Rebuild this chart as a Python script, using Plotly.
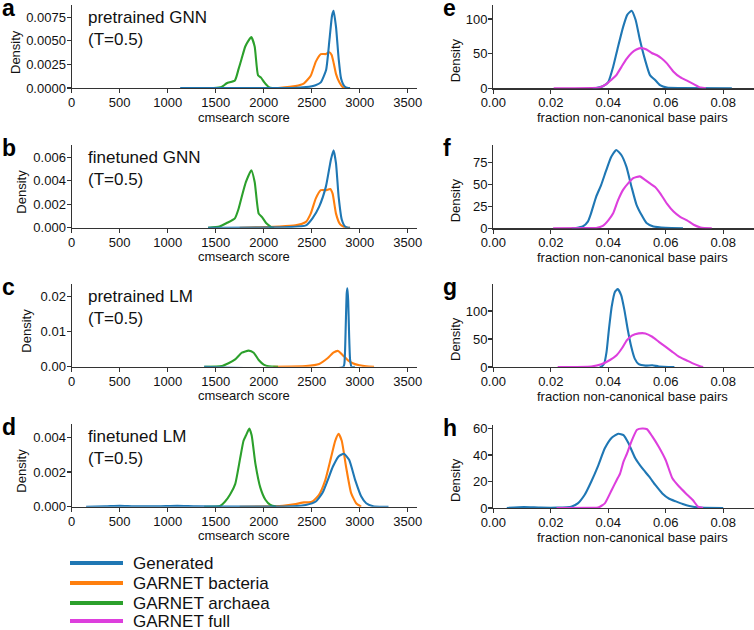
import plotly.graph_objects as go

# ---------------- data ----------------
# panel a: pretrained GNN
a_gen_x = [1130, 2300, 2440, 2540, 2595, 2650, 2685, 2712, 2728, 2753, 2781, 2806, 2840, 2880, 2900]
a_gen_y = [0, 0, 0.0001, 0.0003, 0.0006, 0.0019, 0.0051, 0.0077, 0.0082, 0.0065, 0.0031, 0.0010, 0.0002, 0, 0]
a_bac_x = [2150, 2330, 2420, 2490, 2543, 2595, 2648, 2683, 2708, 2730, 2753, 2788, 2823, 2860, 2900]
a_bac_y = [0, 0.0002, 0.0005, 0.0013, 0.0028, 0.0036, 0.0036, 0.0038, 0.0035, 0.0026, 0.0015, 0.0006, 0.0001, 0, 0]
a_arc_x = [1480, 1560, 1615, 1700, 1738, 1770, 1808, 1840, 1871, 1906, 1941, 1972, 2007, 2053, 2090, 2110]
a_arc_y = [0, 0.0001, 0.0005, 0.0008, 0.0020, 0.0031, 0.0044, 0.0050, 0.0054, 0.0044, 0.00135, 0.0011, 0.0006, 0.0001, 0, 0]

# panel b: finetuned GNN
b_gen_x = [1420, 2260, 2440, 2508, 2578, 2648, 2700, 2728, 2753, 2781, 2813, 2848, 2880, 2900]
b_gen_y = [0, 0.00005, 0.0002, 0.0008, 0.0018, 0.0035, 0.0058, 0.0066, 0.0055, 0.0026, 0.0007, 0.0001, 0, 0]
b_bac_x = [1750, 2160, 2330, 2440, 2490, 2543, 2595, 2648, 2693, 2718, 2753, 2795, 2850, 2900]
b_bac_y = [0, 0.0001, 0.0002, 0.0005, 0.0012, 0.0025, 0.0032, 0.0032, 0.0033, 0.0029, 0.0012, 0.0003, 0, 0]
b_arc_x = [1420, 1540, 1615, 1700, 1738, 1770, 1815, 1871, 1906, 1948, 1983, 2025, 2088, 2110]
b_arc_y = [0, 0.0001, 0.0004, 0.0008, 0.0016, 0.0026, 0.0039, 0.0049, 0.0039, 0.0012, 0.0009, 0.0004, 0, 0]

# panel c: pretrained LM
c_gen_x = [1380, 2830, 2845, 2855, 2865, 2872, 2880, 2890, 2900, 2915, 2950]
c_gen_y = [0, 0, 0.003, 0.012, 0.021, 0.0224, 0.019, 0.009, 0.002, 0, 0]
c_bac_x = [2100, 2440, 2578, 2665, 2725, 2775, 2823, 2875, 2928, 2998, 3068, 3150]
c_bac_y = [0, 0.0002, 0.0008, 0.0024, 0.0040, 0.0045, 0.0033, 0.0019, 0.0010, 0.0004, 0.0001, 0]
c_arc_x = [1380, 1563, 1633, 1703, 1773, 1843, 1896, 1948, 2000, 2053, 2150]
c_arc_y = [0, 0.0002, 0.0010, 0.0021, 0.0040, 0.0046, 0.0040, 0.0019, 0.0006, 0.0001, 0]

# panel d: finetuned LM
d_gen_x = [150, 350, 500, 650, 900, 1100, 1300, 1800, 2300, 2438, 2543, 2613, 2665, 2720, 2780, 2835, 2890, 2955, 3015, 3068, 3140, 3250, 3300]
d_gen_y = [0, 0.00002, 0.00005, 0.00002, 0.00002, 0.00005, 0.00002, 0.00001, 0.00003, 0.0001, 0.0003, 0.0008, 0.0015, 0.0023, 0.0029, 0.00305, 0.0027, 0.0015, 0.0006, 0.0002, 0.00003, 0, 0]
d_bac_x = [1750, 2200, 2333, 2420, 2470, 2508, 2578, 2640, 2700, 2745, 2780, 2813, 2858, 2910, 2963, 3015]
d_bac_y = [0, 0.00005, 0.00015, 0.00025, 0.00025, 0.0003, 0.0007, 0.0015, 0.0028, 0.0038, 0.0042, 0.0038, 0.0023, 0.0008, 0.0002, 0]
d_arc_x = [1380, 1545, 1598, 1650, 1703, 1755, 1790, 1815, 1850, 1875, 1913, 1965, 2018, 2070, 2130]
d_arc_y = [0, 0.00004, 0.0003, 0.0007, 0.0013, 0.0028, 0.0038, 0.0041, 0.0045, 0.0041, 0.0025, 0.0011, 0.0004, 0.0001, 0]

# panel e
e_gen_x = [0.0346, 0.0358, 0.0381, 0.0400, 0.0417, 0.0434, 0.0452, 0.0466, 0.0481, 0.0495, 0.0510, 0.0528, 0.0545, 0.0563, 0.0580, 0.0604, 0.0650, 0.0830]
e_gen_y = [0, 0.5, 3, 9, 31, 60, 89, 106, 112, 99, 70, 41, 19, 12, 4.5, 1, 0.3, 0]
e_full_x = [0.0210, 0.0340, 0.0370, 0.0393, 0.0410, 0.0428, 0.0446, 0.0463, 0.0481, 0.0498, 0.0516, 0.0533, 0.0551, 0.0568, 0.0586, 0.0604, 0.0627, 0.0650, 0.0674, 0.0697, 0.0721, 0.0740]
e_full_y = [0, 0.3, 1, 6, 12, 19, 31, 42, 51, 56, 58, 56, 51, 48, 43, 36, 24, 16, 11, 6, 1, 0]

# panel f
f_gen_x = [0.0273, 0.0288, 0.0311, 0.0329, 0.0340, 0.0358, 0.0375, 0.0393, 0.0410, 0.0428, 0.0446, 0.0463, 0.0481, 0.0498, 0.0516, 0.0533, 0.0557, 0.0600, 0.0660]
f_gen_y = [0, 0.4, 2, 7.6, 17, 36, 49, 66, 81, 89, 83, 70, 47, 27, 15, 6, 2, 0.5, 0]
f_full_x = [0.0208, 0.0330, 0.0358, 0.0381, 0.0400, 0.0417, 0.0434, 0.0452, 0.0469, 0.0487, 0.0510, 0.0528, 0.0545, 0.0563, 0.0580, 0.0604, 0.0627, 0.0650, 0.0674, 0.0697, 0.0721, 0.0760]
f_full_y = [0, 0.2, 0.4, 2.7, 9, 17, 32, 44, 51, 57, 59, 55, 51, 47, 40, 28, 19, 13, 9, 4, 1, 0]

# panel g
g_gen_x = [0.0370, 0.0376, 0.0386, 0.0394, 0.0402, 0.0412, 0.0423, 0.0433, 0.0445, 0.0456, 0.0468, 0.0480, 0.0492, 0.0506, 0.0529, 0.0553, 0.0576, 0.0630]
g_gen_y = [0, 0.6, 6.5, 27, 66, 108, 134, 139, 128, 102, 66, 36, 15, 5, 2.4, 3, 1, 0]
g_full_x = [0.0224, 0.0341, 0.0376, 0.0406, 0.0429, 0.0447, 0.0465, 0.0482, 0.0506, 0.0529, 0.0553, 0.0576, 0.0600, 0.0623, 0.0647, 0.0670, 0.0694, 0.0717, 0.0730]
g_full_y = [0, 1, 5, 12.5, 21, 33, 48, 56, 60, 60, 54, 45, 36, 27, 18, 12.5, 6.5, 2, 0]

# panel h
h_gen_x = [0.0047, 0.0106, 0.0165, 0.0224, 0.0271, 0.0294, 0.0318, 0.0341, 0.0365, 0.0388, 0.0412, 0.0435, 0.0453, 0.0470, 0.0494, 0.0518, 0.0541, 0.0565, 0.0588, 0.0612, 0.0635, 0.0659, 0.0682, 0.0718, 0.0800]
h_gen_y = [0, 0.8, 0.3, 0.3, 1, 3.5, 10, 20, 32, 45, 53, 56, 55, 49, 37.5, 30, 24, 17, 11, 7, 5, 3, 1.5, 0.3, 0]
h_full_x = [0.0220, 0.0340, 0.0365, 0.0388, 0.0412, 0.0429, 0.0441, 0.0453, 0.0465, 0.0482, 0.0500, 0.0518, 0.0535, 0.0553, 0.0576, 0.0600, 0.0623, 0.0647, 0.0670, 0.0694, 0.0712, 0.0730]
h_full_y = [0, 0.1, 0.3, 3.5, 13.6, 21, 26, 35, 41, 51, 59, 60, 59.4, 54, 46, 36, 22.4, 16, 11, 6, 1, 0]

# ticks
score_ticks = [0, 500, 1000, 1500, 2000, 2500, 3000, 3500]
frac_ticks = [0.0, 0.02, 0.04, 0.06, 0.08]
frac_labels = ["0.00", "0.02", "0.04", "0.06", "0.08"]
a_yticks = [0, 0.0025, 0.005, 0.0075]
a_ylabels = ["0.0000", "0.0025", "0.0050", "0.0075"]
b_yticks = [0, 0.002, 0.004, 0.006]
b_ylabels = ["0.000", "0.002", "0.004", "0.006"]
c_yticks = [0, 0.01, 0.02]
c_ylabels = ["0.00", "0.01", "0.02"]
d_yticks = [0, 0.002, 0.004]
d_ylabels = ["0.000", "0.002", "0.004"]
e_yticks = [0, 50, 100]
f_yticks = [0, 25, 50, 75]
g_yticks = [0, 50, 100]
h_yticks = [0, 20, 40, 60]

panel_titles = ["pretrained GNN<br>(T=0.5)", "finetuned GNN<br>(T=0.5)",
                "pretrained LM<br>(T=0.5)", "finetuned LM<br>(T=0.5)"]
panel_letters = ["a", "b", "c", "d", "e", "f", "g", "h"]
series_names = ["Generated", "GARNET bacteria", "GARNET archaea", "GARNET full"]

# ---------------- styling / layout ----------------
W, H = 754, 630
FONT = "Arial, Liberation Sans, sans-serif"
C_GEN, C_BAC, C_ARC, C_FULL = "#1f77b4", "#ff7f0e", "#2ca02c", "#dd3fdd"
AXC = "#333333"

def px(xp):
    return xp / W

def py(yp):
    return 1 - yp / H

left_zero = [88.0, 227.7, 366.7, 506.7]
right_zero = [88.3, 228.3, 367.0, 508.0]
PH = 83.0
left_dom = [px(71.7), px(417.0)]
right_dom = [px(493.3), 1.0]
left_xrange = [0, 3597]
right_xrange = [0, 0.0907]
left_yranges = [[0, 0.008805], [0, 0.007074], [0, 0.02371], [0, 0.004784]]
right_yranges = [[0, 119.8], [0, 94.3], [0, 148.2], [0, 62.6]]

fig = go.Figure()

def add(i, x, y, color):
    fig.add_trace(go.Scatter(
        x=x, y=y, mode="lines", line=dict(color=color, width=2.1, shape="spline", smoothing=0.5),
        xaxis="x" if i == 1 else f"x{i}", yaxis="y" if i == 1 else f"y{i}",
        showlegend=False, cliponaxis=False, hoverinfo="skip"))

left_data = [
    (a_bac_x, a_bac_y, a_arc_x, a_arc_y, a_gen_x, a_gen_y),
    (b_bac_x, b_bac_y, b_arc_x, b_arc_y, b_gen_x, b_gen_y),
    (c_bac_x, c_bac_y, c_arc_x, c_arc_y, c_gen_x, c_gen_y),
    (d_bac_x, d_bac_y, d_arc_x, d_arc_y, d_gen_x, d_gen_y),
]
right_data = [
    (e_gen_x, e_gen_y, e_full_x, e_full_y),
    (f_gen_x, f_gen_y, f_full_x, f_full_y),
    (g_gen_x, g_gen_y, g_full_x, g_full_y),
    (h_gen_x, h_gen_y, h_full_x, h_full_y),
]
for r, (bx, by, ax_, ay, gx, gy) in enumerate(left_data):
    i = r + 1
    add(i, bx, by, C_BAC)
    add(i, ax_, ay, C_ARC)
    add(i, gx, gy, C_GEN)
for r, (gx, gy, fx, fy) in enumerate(right_data):
    i = r + 5
    add(i, gx, gy, C_GEN)
    add(i, fx, fy, C_FULL)

left_yt = [(a_yticks, a_ylabels), (b_yticks, b_ylabels), (c_yticks, c_ylabels), (d_yticks, d_ylabels)]
right_yt = [e_yticks, f_yticks, g_yticks, h_yticks]

common = dict(showline=True, linecolor=AXC, linewidth=1.2, ticks="outside", ticklen=4,
              tickwidth=1.1, tickcolor=AXC, showgrid=False, zeroline=False, automargin=False,
              tickfont=dict(family=FONT, size=13, color="#111"), layer="below traces",
              fixedrange=True, ticklabelstandoff=-2)

layout = {}
for r in range(4):
    i = r + 1
    z = left_zero[r]
    xa = "xaxis" if i == 1 else f"xaxis{i}"
    ya = "yaxis" if i == 1 else f"yaxis{i}"
    layout[xa] = dict(common, domain=left_dom, range=left_xrange, tickvals=score_ticks,
                      ticktext=[str(t) for t in score_ticks],
                      anchor="y" if i == 1 else f"y{i}")
    layout[ya] = dict(common, domain=[py(z), py(z - PH)], range=left_yranges[r],
                      tickvals=left_yt[r][0], ticktext=left_yt[r][1],
                      anchor="x" if i == 1 else f"x{i}")
for r in range(4):
    i = r + 5
    z = right_zero[r]
    layout[f"xaxis{i}"] = dict(common, domain=right_dom, range=right_xrange, tickvals=frac_ticks,
                               ticktext=frac_labels, anchor=f"y{i}")
    layout[f"yaxis{i}"] = dict(common, domain=[py(z), py(z - PH)], range=right_yranges[r],
                               tickvals=right_yt[r], ticktext=[str(t) for t in right_yt[r]],
                               anchor=f"x{i}")

ann = []
txt = dict(family=FONT, color="#111")
dens_left_x = [15, 22, 27, 22]
for r in range(4):
    z = left_zero[r]
    ann.append(dict(text=panel_titles[r], x=px(86), y=py(z - 82), xref="paper", yref="paper",
                    xanchor="left", yanchor="top", showarrow=False, align="left",
                    font=dict(txt, size=17)))
    ann.append(dict(text="cmsearch score", x=px(244), y=py(z + 29), xref="paper", yref="paper",
                    xanchor="center", yanchor="middle", showarrow=False, font=dict(txt, size=13)))
    ann.append(dict(text="Density", x=px(dens_left_x[r]), y=py(z - 36), xref="paper", yref="paper",
                    xanchor="center", yanchor="middle", textangle=-90, showarrow=False,
                    font=dict(txt, size=13)))
    ann.append(dict(text=f"<b>{panel_letters[r]}</b>", x=px(0), y=py(z - 80), xref="paper",
                    yref="paper", xanchor="left", yanchor="middle", showarrow=False,
                    font=dict(txt, size=23, color="#000")))
for r in range(4):
    z = right_zero[r]
    ann.append(dict(text="fraction non-canonical base pairs", x=px(632), y=py(z + 29), xref="paper",
                    yref="paper", xanchor="center", yanchor="middle", showarrow=False,
                    font=dict(txt, size=13)))
    ann.append(dict(text="Density", x=px(455), y=py(z - 28), xref="paper", yref="paper",
                    xanchor="center", yanchor="middle", textangle=-90, showarrow=False,
                    font=dict(txt, size=13)))
    ann.append(dict(text=f"<b>{panel_letters[r + 4]}</b>", x=px(441), y=py(z - 80), xref="paper",
                    yref="paper", xanchor="left", yanchor="middle", showarrow=False,
                    font=dict(txt, size=23, color="#000")))

# legend (manual)
shapes = []
leg_colors = [C_GEN, C_BAC, C_ARC, C_FULL]
leg_y = [563, 583, 603, 621]
for name, col, yy in zip(series_names, leg_colors, leg_y):
    shapes.append(dict(type="line", xref="paper", yref="paper", x0=px(70), x1=px(123),
                       y0=py(yy), y1=py(yy), line=dict(color=col, width=4)))
    ann.append(dict(text=name, x=px(131), y=py(yy), xref="paper", yref="paper",
                    xanchor="left", yanchor="middle", showarrow=False, font=dict(txt, size=17)))

fig.update_layout(**layout)
fig.update_layout(template="none", width=W, height=H, margin=dict(l=0, r=0, t=0, b=0),
                  paper_bgcolor="white", plot_bgcolor="white",
                  annotations=ann, shapes=shapes, showlegend=False,
                  font=dict(family=FONT, size=13, color="#111"))

fig.write_html("out.html", config={"displayModeBar": False, "staticPlot": True},
               post_script="document.body.style.margin='0px';document.body.style.padding='0px';"
                           "document.body.style.overflow='hidden';")
